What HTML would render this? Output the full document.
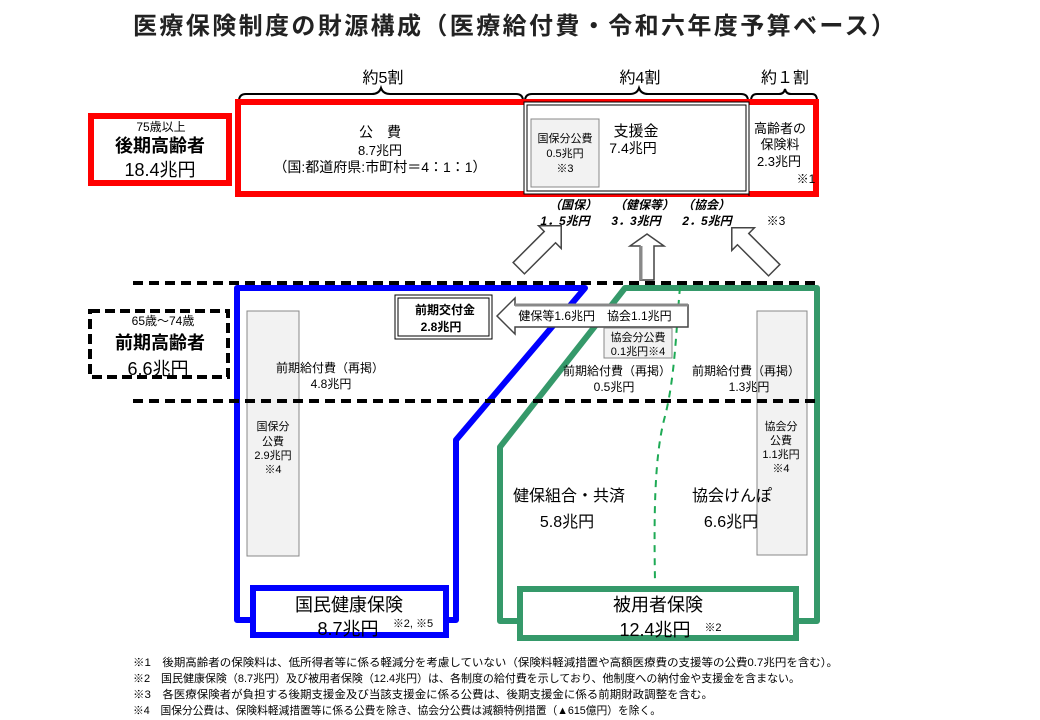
<!DOCTYPE html>
<html><head><meta charset="utf-8"><style>
body{margin:0;background:#fff;}
svg{display:block;font-family:"Liberation Sans","Noto Sans CJK JP",sans-serif;}
</style></head><body>
<svg width="1040" height="720" viewBox="0 0 1040 720" xmlns="http://www.w3.org/2000/svg">
<rect width="1040" height="720" fill="#fff"/>
<text x="133" y="34" font-size="24" font-weight="bold" fill="#222" textLength="762" lengthAdjust="spacing">医療保険制度の財源構成（医療給付費・令和六年度予算ベース）</text>

<!-- braces -->
<g fill="none" stroke="#000" stroke-width="2">
<path d="M239,101 Q239,94 246,94 L372,94 Q379,94 381,88 Q383,94 390,94 L516,94 Q523,94 523,101"/>
<path d="M525,101 Q525,94 532,94 L630,94 Q637,94 639,88 Q641,94 648,94 L741,94 Q748,94 748,101"/>
<path d="M751,101 Q751,94 757,94 L779,94 Q784,94 785,89 Q786,94 791,94 L812,94 Q817,94 817,101"/>
</g>
<text x="383" y="83" font-size="16" text-anchor="middle">約5割</text>
<text x="640" y="83" font-size="16" text-anchor="middle">約4割</text>
<text x="785" y="83" font-size="16" text-anchor="middle">約１割</text>

<!-- left red box -->
<rect x="91" y="116" width="138" height="67" fill="#fff" stroke="#f00" stroke-width="6"/>
<text x="161" y="131" font-size="12" text-anchor="middle">75歳以上</text>
<text x="160" y="152" font-size="18" font-weight="bold" text-anchor="middle">後期高齢者</text>
<text x="160" y="176" font-size="18" text-anchor="middle">18.4兆円</text>

<!-- big red box -->
<rect x="238" y="102" width="578" height="92" fill="#fff" stroke="#f00" stroke-width="6"/>
<text x="380" y="137" font-size="14" text-anchor="middle">公　費</text>
<text x="380" y="155" font-size="13" text-anchor="middle">8.7兆円</text>
<text x="380" y="172" font-size="14" text-anchor="middle">（国:都道府県:市町村＝4：1：1）</text>
<rect x="524" y="102" width="225" height="92" fill="#fff" stroke="#000" stroke-width="1"/>
<rect x="527" y="105" width="219" height="86" fill="none" stroke="#000" stroke-width="1"/>
<line x1="749" y1="102" x2="749" y2="196" stroke="#000" stroke-width="1"/>
<rect x="531" y="119" width="68" height="68" fill="#f2f2f2" stroke="#888"/>
<text x="565" y="142" font-size="11" text-anchor="middle">国保分公費</text>
<text x="565" y="157" font-size="11" text-anchor="middle">0.5兆円</text>
<text x="565" y="172" font-size="11" text-anchor="middle">※3</text>
<text x="636" y="136" font-size="15" text-anchor="middle">支援金</text>
<text x="633" y="153" font-size="14" text-anchor="middle">7.4兆円</text>
<text x="780" y="133" font-size="13" text-anchor="middle">高齢者の</text>
<text x="780" y="149" font-size="13" text-anchor="middle">保険料</text>
<text x="779" y="166" font-size="13" text-anchor="middle">2.3兆円</text>
<text x="806" y="183" font-size="12" text-anchor="middle">※1</text>

<!-- arrow labels -->
<g font-size="12" font-weight="bold" font-style="italic" text-anchor="middle">
<text x="573" y="209">（国保）</text><text x="565" y="225">1．5兆円</text>
<text x="644" y="209">（健保等）</text><text x="636" y="225">3．3兆円</text>
<text x="706" y="209">（協会）</text><text x="707" y="225">2．5兆円</text>
</g>
<text x="776" y="225" font-size="12" text-anchor="middle">※3</text>

<!-- up arrows -->
<g fill="#fff" stroke="#444" stroke-width="1.5">
<polygon transform="translate(540,247) rotate(45)" points="0,-30 16,-14 8,-14 8,30 -8,30 -8,-14 -16,-14"/>
<polygon transform="translate(647,258) rotate(0)" points="0,-24 17,-12 7,-12 7,22 -7,22 -7,-12 -17,-12"/>
<polygon transform="translate(753,249) rotate(-45)" points="0,-30 16,-14 8,-14 8,30 -8,30 -8,-14 -16,-14"/>
</g>
<line x1="641" y1="246" x2="641" y2="280" stroke="#888" stroke-width="3"/>

<!-- blue polygon -->
<polyline points="252,620 237,620 237,288 585,288 456,440 456,620 446,620" fill="none" stroke="#00f" stroke-width="6" stroke-linejoin="round"/>
<!-- green polygon -->
<polyline points="518,621 500,621 500,447 625,288 817,288 817,621 797,621" fill="none" stroke="#35996a" stroke-width="6" stroke-linejoin="round"/>
<path d="M680,287 C676,330 675,380 664,420 C654,460 654,520 655,582" fill="none" stroke="#1eaa55" stroke-width="2" stroke-dasharray="7,6"/>

<!-- dashed lines -->
<line x1="133" y1="283" x2="820" y2="283" stroke="#000" stroke-width="4" stroke-dasharray="10,6"/>

<!-- gray columns -->
<rect x="247" y="311" width="52" height="245" fill="#f2f2f2" stroke="#888"/>
<rect x="757" y="311" width="50" height="244" fill="#f2f2f2" stroke="#888"/>
<g font-size="11" text-anchor="middle">
<text x="273" y="430">国保分</text><text x="273" y="445">公費</text><text x="273" y="459">2.9兆円</text><text x="273" y="473">※4</text>
<text x="781" y="430">協会分</text><text x="781" y="444">公費</text><text x="781" y="458">1.1兆円</text><text x="781" y="472">※4</text>
</g>
<line x1="133" y1="401" x2="820" y2="401" stroke="#000" stroke-width="4" stroke-dasharray="10,6"/>

<!-- left dashed box -->
<rect x="90" y="311" width="138" height="66" fill="#fff" stroke="#000" stroke-width="4" stroke-dasharray="10,5"/>
<text x="163" y="325" font-size="12" text-anchor="middle">65歳～74歳</text>
<text x="160" y="349" font-size="18" text-anchor="middle" font-weight="bold">前期高齢者</text>
<text x="158" y="375" font-size="18" text-anchor="middle">6.6兆円</text>

<text x="330" y="372" font-size="12" text-anchor="middle">前期給付費（再掲）</text>
<text x="331" y="388" font-size="12" text-anchor="middle">4.8兆円</text>

<!-- 前期交付金 -->
<rect x="395" y="295" width="97" height="44" fill="#fff" stroke="#000" stroke-width="1"/>
<rect x="398" y="298" width="91" height="38" fill="none" stroke="#000" stroke-width="1"/>
<text x="445" y="314" font-size="12" font-weight="bold" text-anchor="middle">前期交付金</text>
<text x="441" y="331" font-size="12" font-weight="bold" text-anchor="middle">2.8兆円</text>
<polygon points="497,316 515,298 515,305 688,305 688,327 515,327 515,334" fill="#fff" stroke="#444" stroke-width="1.5"/>
<line x1="515" y1="305" x2="688" y2="305" stroke="#888" stroke-width="3"/>
<text x="595" y="320" font-size="12" text-anchor="middle">健保等1.6兆円　協会1.1兆円</text>
<rect x="604" y="328" width="68" height="30" fill="#f2f2f2" stroke="#888"/>
<text x="638" y="341" font-size="11" text-anchor="middle">協会分公費</text>
<text x="638" y="355" font-size="11" text-anchor="middle">0.1兆円※4</text>
<text x="617" y="375" font-size="12" text-anchor="middle">前期給付費（再掲）</text>
<text x="614" y="391" font-size="12" text-anchor="middle">0.5兆円</text>
<text x="746" y="375" font-size="12" text-anchor="middle">前期給付費（再掲）</text>
<text x="749" y="391" font-size="12" text-anchor="middle">1.3兆円</text>

<text x="569" y="501" font-size="16" text-anchor="middle">健保組合・共済</text>
<text x="567" y="527" font-size="16" text-anchor="middle">5.8兆円</text>
<text x="732" y="501" font-size="16" text-anchor="middle">協会けんぽ</text>
<text x="731" y="527" font-size="16" text-anchor="middle">6.6兆円</text>

<!-- bottom boxes -->
<rect x="253" y="588" width="193" height="47" fill="#fff" stroke="#00f" stroke-width="6"/>
<text x="349" y="611" font-size="18" text-anchor="middle">国民健康保険</text>
<text x="348" y="635" font-size="18" text-anchor="middle">8.7兆円</text>
<text x="413" y="627" font-size="11" text-anchor="middle">※2, ※5</text>
<rect x="520" y="589" width="276" height="49" fill="#fff" stroke="#35996a" stroke-width="6"/>
<text x="658" y="611" font-size="18" text-anchor="middle">被用者保険</text>
<text x="655" y="636" font-size="18" text-anchor="middle">12.4兆円</text>
<text x="713" y="631" font-size="11" text-anchor="middle">※2</text>

<!-- footnotes -->
<g font-size="11">
<text x="133" y="666" textLength="705" lengthAdjust="spacingAndGlyphs">※1　後期高齢者の保険料は、低所得者等に係る軽減分を考慮していない（保険料軽減措置や高額医療費の支援等の公費0.7兆円を含む）。</text>
<text x="133" y="682" textLength="667" lengthAdjust="spacingAndGlyphs">※2　国民健康保険（8.7兆円）及び被用者保険（12.4兆円）は、各制度の給付費を示しており、他制度への納付金や支援金を含まない。</text>
<text x="133" y="698" textLength="580" lengthAdjust="spacingAndGlyphs">※3　各医療保険者が負担する後期支援金及び当該支援金に係る公費は、後期支援金に係る前期財政調整を含む。</text>
<text x="133" y="714" textLength="528" lengthAdjust="spacingAndGlyphs">※4　国保分公費は、保険料軽減措置等に係る公費を除き、協会分公費は減額特例措置（▲615億円）を除く。</text>
</g>
</svg>
</body></html>
